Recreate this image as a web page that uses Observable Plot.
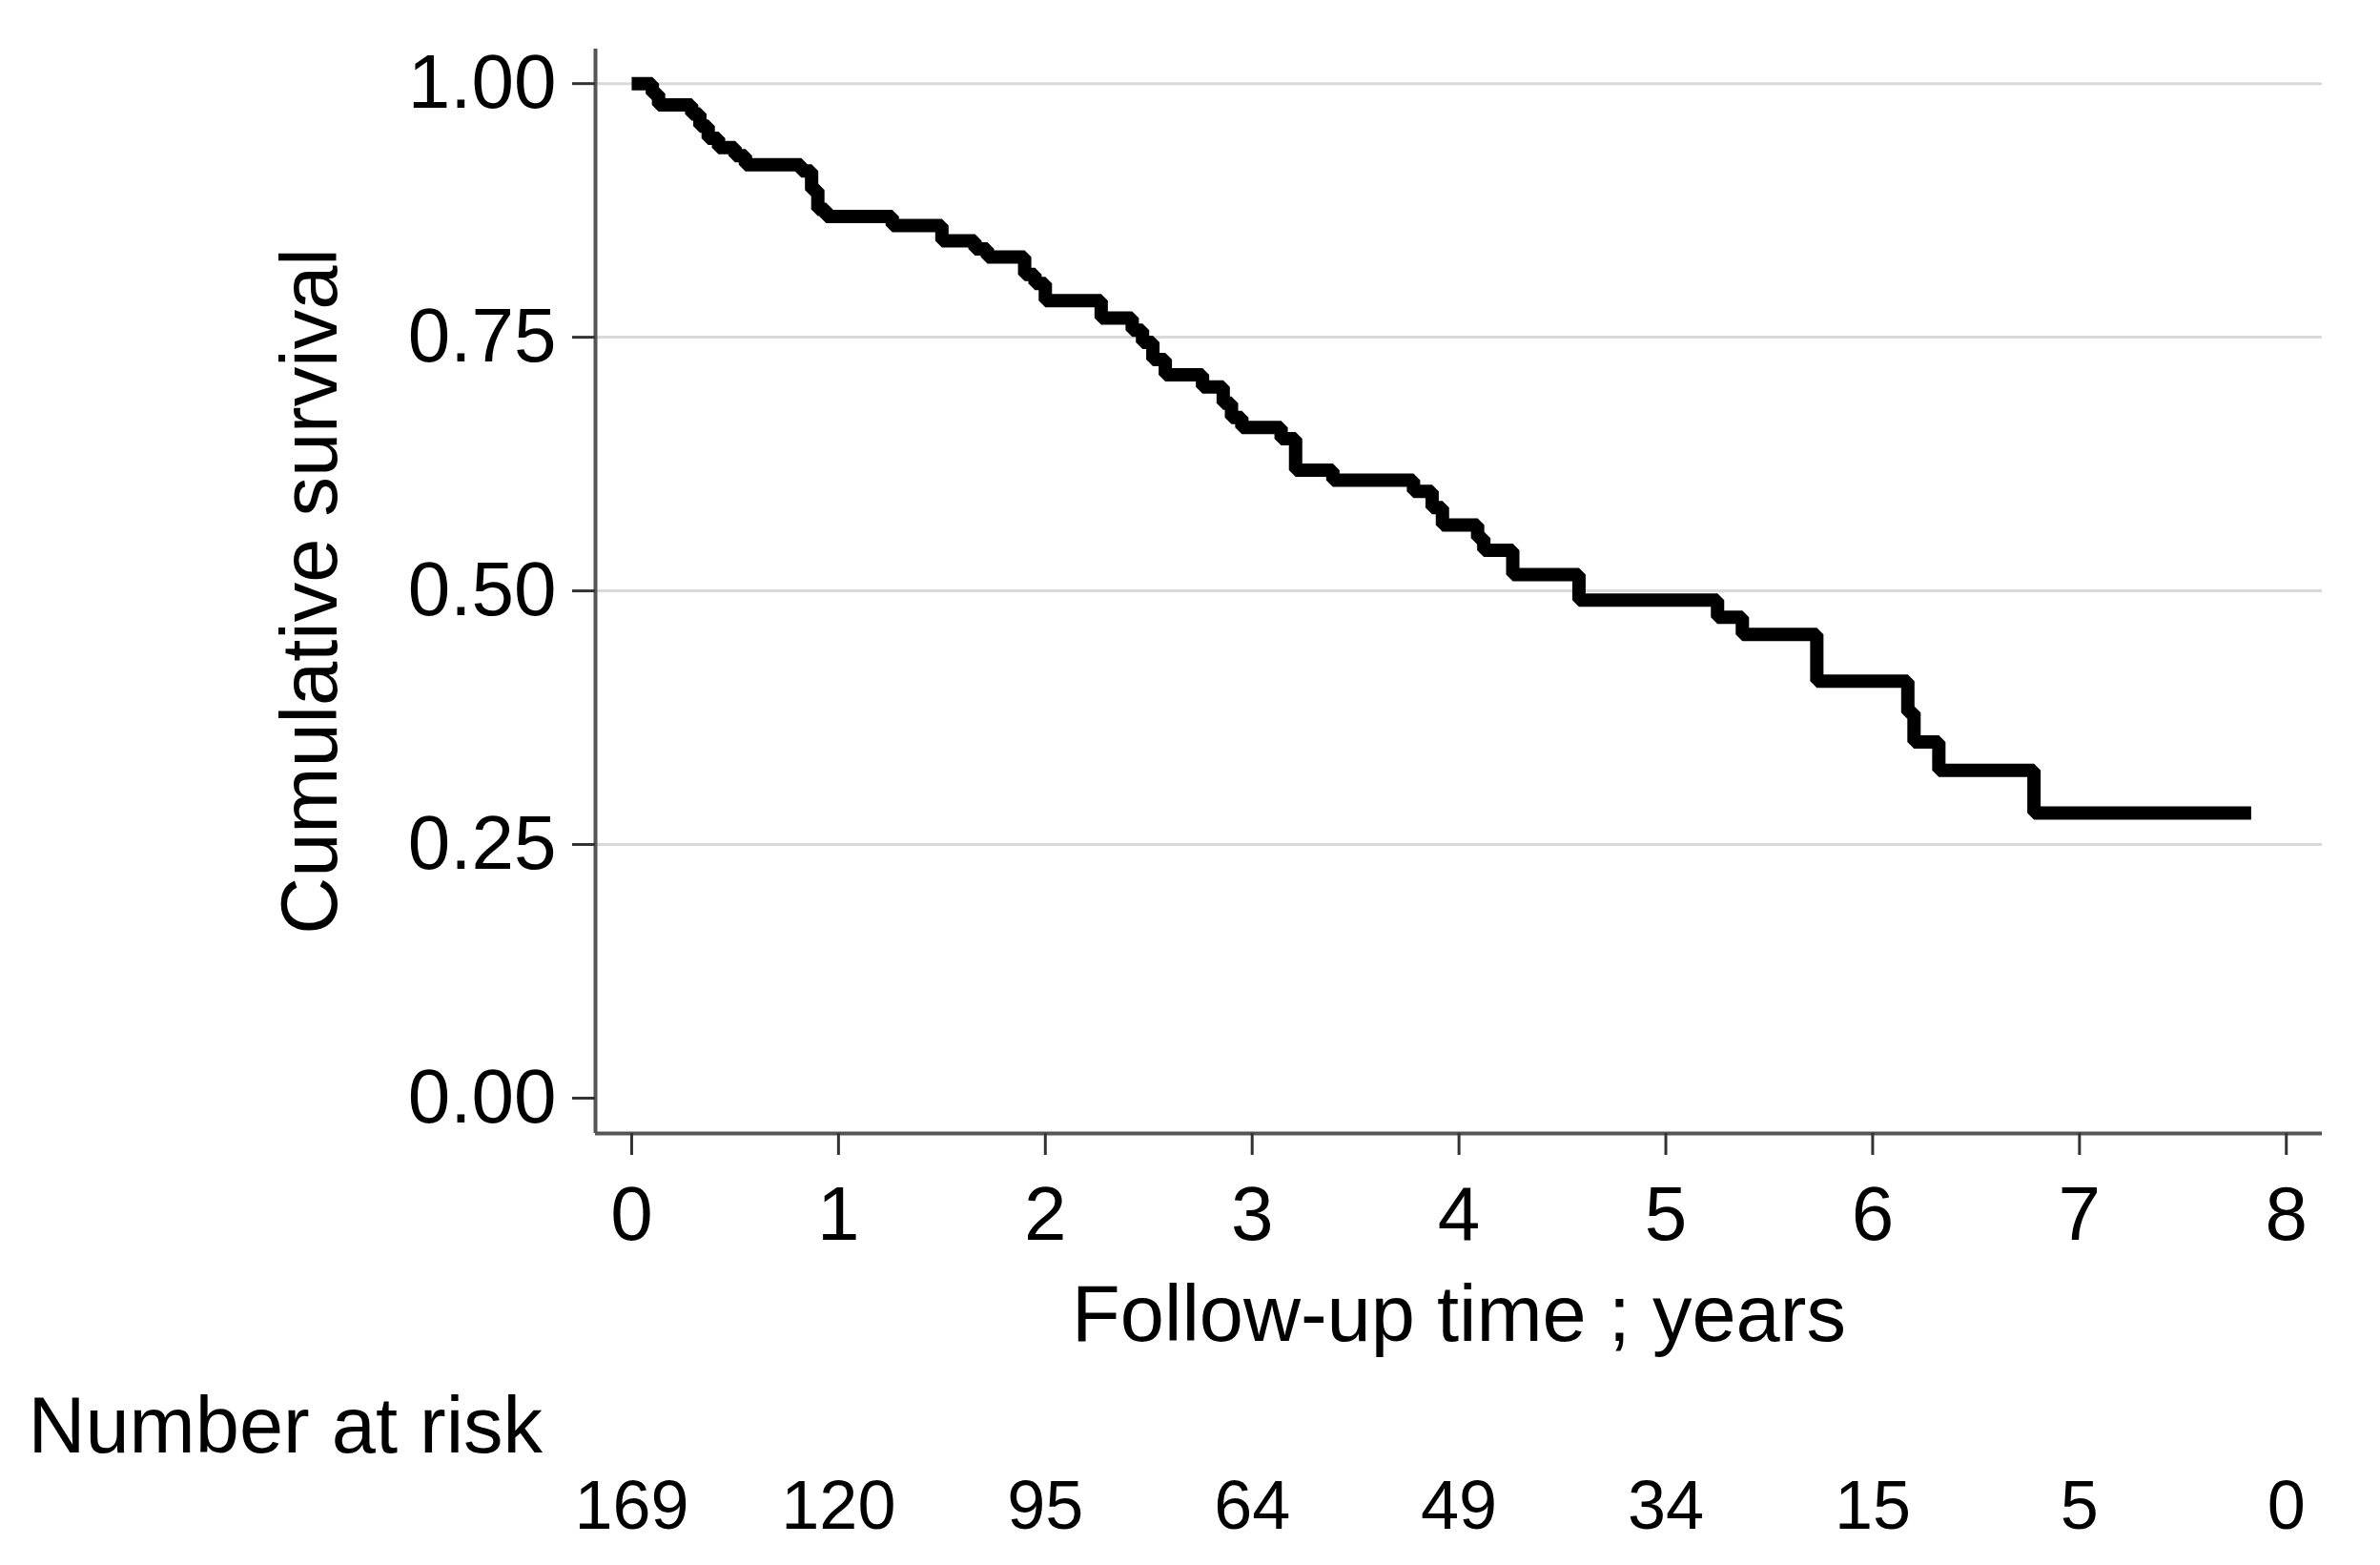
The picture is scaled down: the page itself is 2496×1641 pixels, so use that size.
<!DOCTYPE html>
<html>
<head>
<meta charset="utf-8">
<script src="https://cdn.jsdelivr.net/npm/d3@7"></script>
<script src="https://cdn.jsdelivr.net/npm/@observablehq/plot@0.6"></script>
<style>
  html, body { margin: 0; padding: 0; background: #fff; }
  svg { display: block; }
</style>
</head>
<body>
<div id="chart"></div>
<script>
// Kaplan-Meier step points (time in years, cumulative survival)
const times = [0, 0.10, 0.13, 0.29, 0.33, 0.37, 0.42, 0.50, 0.55, 0.82, 0.87, 0.90, 0.94,
  1.26, 1.50, 1.66, 1.72, 1.90, 1.95, 2.00, 2.27, 2.42, 2.47, 2.52, 2.58, 2.76, 2.86, 2.90, 2.95,
  3.14, 3.21, 3.39, 3.78, 3.87, 3.92, 4.09, 4.12, 4.26, 4.58, 5.25, 5.37, 5.73, 6.17, 6.20, 6.32, 6.78, 7.83];
const survival = [1.00, 0.990, 0.979, 0.970, 0.958, 0.946, 0.937, 0.929, 0.920, 0.914, 0.895, 0.876, 0.869,
  0.860, 0.845, 0.837, 0.829, 0.812, 0.803, 0.786, 0.769, 0.757, 0.745, 0.728, 0.713, 0.701, 0.685, 0.671, 0.661,
  0.650, 0.619, 0.609, 0.598, 0.582, 0.565, 0.552, 0.540, 0.516, 0.491, 0.474, 0.457, 0.411, 0.380, 0.351, 0.323, 0.281, 0.281];

const xTicks = [0, 1, 2, 3, 4, 5, 6, 7, 8];
const yTicks = [0, 0.25, 0.5, 0.75, 1];
const gridTicks = [0.25, 0.5, 0.75, 1];
const atRisk = [169, 120, 95, 64, 49, 34, 15, 5, 0];

const xDomain = [-0.175, 8.174];
const yDomain = [-0.0348, 1.034];

const km = times.map((t, i) => ({t, s: survival[i]}));
const risk = xTicks.map((t, i) => ({t, n: atRisk[i]}));

const font = "Liberation Sans, Arial, Helvetica, sans-serif";

const chart = Plot.plot({
  width: 2496,
  height: 1641,
  marginLeft: 624,
  marginRight: 61,
  marginTop: 51,
  marginBottom: 453,
  style: {fontFamily: font, background: "#fff", color: "#000", overflow: "visible"},
  x: {domain: xDomain},
  y: {domain: yDomain},
  marks: [
    Plot.gridY(gridTicks, {stroke: "#d9d9d9", strokeOpacity: 1, strokeWidth: 3}),
    Plot.ruleX([xDomain[0]], {stroke: "#555", strokeWidth: 4}),
    Plot.ruleY([yDomain[0]], {stroke: "#555", strokeWidth: 4}),
    Plot.axisY({ticks: yTicks, tickFormat: d3.format(".2f"), tickSize: 24, tickPadding: 17,
      fontSize: 80, label: null, stroke: "#333", strokeWidth: 3}),
    Plot.axisX({ticks: xTicks, tickFormat: d3.format("d"), tickSize: 23, tickPadding: 32,
      fontSize: 80, label: null, stroke: "#333", strokeWidth: 3}),
    Plot.line(km, {x: "t", y: "s", curve: "step-after", stroke: "#000", strokeWidth: 14,
      strokeLinejoin: "miter", strokeLinecap: "butt"}),
    Plot.text(["Cumulative survival"], {frameAnchor: "left", rotate: -90, dx: -272,
      textAnchor: "middle", lineAnchor: "bottom", fontSize: 83, fill: "#000"}),
    Plot.text(["Follow-up time ; years"], {frameAnchor: "bottom", dy: 217,
      textAnchor: "middle", lineAnchor: "bottom", fontSize: 83, fill: "#000"}),
    Plot.text(["Number at risk"], {frameAnchor: "bottom-left", dx: -595, dy: 334,
      textAnchor: "start", lineAnchor: "bottom", fontSize: 83, fill: "#000"}),
    Plot.text(risk, {x: "t", text: "n", frameAnchor: "bottom", dy: 414,
      textAnchor: "middle", lineAnchor: "bottom", fontSize: 72, fill: "#000"})
  ]
});
document.getElementById("chart").appendChild(chart);
</script>
</body>
</html>
